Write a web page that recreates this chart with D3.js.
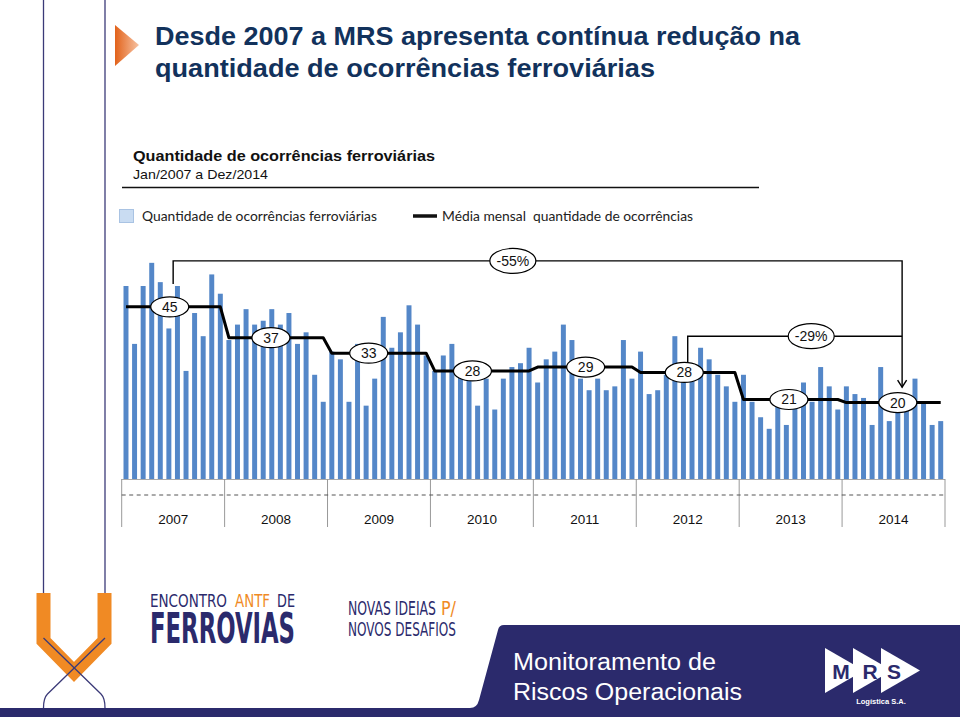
<!DOCTYPE html>
<html><head><meta charset="utf-8">
<script src="https://cdn.jsdelivr.net/npm/d3@7"></script>
<style>html,body{margin:0;padding:0;background:#fff;} svg{display:block;}
text{font-family:'Liberation Sans', Arial, Helvetica, sans-serif;}
text.cal{font-family:Lato, 'Open Sans', sans-serif;}
text.cond{font-family:'DejaVu Sans Condensed','DejaVu Sans',sans-serif;}
</style>
</head><body>
<svg id="c" width="960" height="717"></svg>
<script>
// ---------- DATA ----------
const years = ["2007","2008","2009","2010","2011","2012","2013","2014"];
const counts2007 = [50,35,50,56,51,39,50,28,43,37,53,48];
const counts2008 = [36,40,44,40,41,44,40,43,35,38,27,20];
const counts2009 = [33,31,20,35,19,26,42,34,38,45,40,32];
const counts2010 = [28,32,35,28,26,19,26,18,26,29,30,34];
const counts2011 = [25,31,33,40,36,26,23,26,23,24,36,26];
const counts2012 = [33,22,23,27,37,30,28,34,31,27,24,20];
const counts2013 = [27,20,16,13,20,14,21,25,20,29,24,18];
const counts2014 = [24,22,21,14,29,15,19,21,26,20,14,15];
const yearAverages = [44.6,36.6,32.6,28.0,29.0,27.6,20.6,19.8];
const changeLabels = ["-55%","-29%"];
const seriesNames = ["Quantidade de ocorrências ferroviárias","Média mensal  quantidade de ocorrências"];

// ---------- SETUP ----------
const counts = [].concat(counts2007,counts2008,counts2009,counts2010,counts2011,counts2012,counts2013,counts2014);
const months = d3.range(counts.length);
const avgPerMonth = months.map(i => yearAverages[Math.floor(i/12)]);

const svg = d3.select("#c");
const defs = svg.append("defs");
const NAVY = "#2b2a6c", TITLE = "#12325c", ORANGE = "#f08a24";

const x = d3.scaleBand().domain(months).range([121.7,945]).paddingInner(0.42).paddingOuter(0.21);
const y = d3.scaleLinear().domain([0,60]).range([479,247.4]);
const step = x.step();
const xc = i => x(i) + x.bandwidth()/2;
const xEdge = i => x.range()[0] + i*step;
const xYear = d3.scaleBand().domain(years).range(x.range());

function txt(parent, t, o){
  const s = parent.append("text").text(t);
  Object.entries(o).forEach(([k,v]) => s.attr(k,v));
  return s;
}

// ---------- DECOR: left lines & title ----------
svg.append("line").attr("x1",43.5).attr("x2",43.5).attr("y1",0).attr("y2",638).attr("stroke","#3b3a78").attr("stroke-width",1.3);
svg.append("line").attr("x1",105).attr("x2",105).attr("y1",0).attr("y2",638).attr("stroke","#3b3a78").attr("stroke-width",1.3);

const g1 = defs.append("linearGradient").attr("id","tri").attr("x1","0").attr("x2","1").attr("y1","0").attr("y2","0");
g1.append("stop").attr("offset","0").attr("stop-color","#e2621a");
g1.append("stop").attr("offset","1").attr("stop-color","#f7c3a3");
svg.append("path").attr("d","M115,25 L139,45 L115,66 Z").attr("fill","url(#tri)");

txt(svg,"Desde 2007 a MRS apresenta contínua redução na",{x:155,y:45,"font-weight":"bold","font-size":26,fill:TITLE,textLength:645,lengthAdjust:"spacingAndGlyphs"});
txt(svg,"quantidade de ocorrências ferroviárias",{x:155,y:77,"font-weight":"bold","font-size":26,fill:TITLE,textLength:500,lengthAdjust:"spacingAndGlyphs"});

txt(svg,"Quantidade de ocorrências ferroviárias",{x:133,y:161,"font-weight":"bold","font-size":15,fill:"#111",textLength:302,lengthAdjust:"spacingAndGlyphs"});
txt(svg,"Jan/2007 a Dez/2014",{x:133,y:179,"font-size":13.5,fill:"#111",textLength:135,lengthAdjust:"spacingAndGlyphs"});
svg.append("line").attr("x1",122).attr("x2",759).attr("y1",187.5).attr("y2",187.5).attr("stroke","#111").attr("stroke-width",1.5);

// legend
svg.append("rect").attr("x",119.5).attr("y",209.5).attr("width",14).attr("height",13).attr("fill","#c9dcf2").attr("stroke","#a9c3e3");
txt(svg,seriesNames[0],{class:"cal",x:142,y:221,"font-size":13.5,fill:"#222",textLength:235,lengthAdjust:"spacingAndGlyphs"});
svg.append("line").attr("x1",413).attr("x2",437).attr("y1",216).attr("y2",216).attr("stroke","#111").attr("stroke-width",3.5);
txt(svg,seriesNames[1],{class:"cal",x:442,y:221,"font-size":13.5,fill:"#222","xml:space":"preserve",textLength:251,lengthAdjust:"spacingAndGlyphs"});

// ---------- CHART ----------
const chart = svg.append("g");
chart.selectAll("rect.bar").data(months).join("rect").attr("class","bar")
  .attr("x", i => x(i)).attr("width", x.bandwidth())
  .attr("y", i => y(counts[i])).attr("height", i => y(0) - y(counts[i]))
  .attr("fill","#5487c8");

// axis baseline + year separators
chart.append("line").attr("x1",x.range()[0]).attr("x2",x.range()[1]).attr("y1",y(0)+0.5).attr("y2",y(0)+0.5).attr("stroke","#aaa").attr("stroke-width",1);
const seps = years.map(d => xYear(d)).concat([x.range()[1]]);
chart.selectAll("line.sep").data(seps).join("line").attr("class","sep")
  .attr("x1",d=>d).attr("x2",d=>d).attr("y1",y(0)).attr("y2",527).attr("stroke","#999").attr("stroke-width",1);
chart.append("line").attr("x1",x.range()[0]).attr("x2",x.range()[1]).attr("y1",495).attr("y2",495)
  .attr("stroke","#555").attr("stroke-width",1).attr("stroke-dasharray","4,3.5");

const axisG = chart.append("g").attr("transform","translate(0,510)")
  .call(d3.axisBottom(xYear).tickSize(0).tickPadding(4));
axisG.select(".domain").remove();
axisG.selectAll("text").attr("font-family","'Liberation Sans', Arial, sans-serif").attr("font-size",13.5).attr("fill","#111");

// average step line
const line = d3.line().x(i => xc(i)).y(i => y(avgPerMonth[i]));
chart.append("path").datum(months).attr("d",line).attr("fill","none").attr("stroke","#000")
  .attr("stroke-width",3).attr("stroke-linejoin","round");

// brackets
function br(d){ return chart.append("path").attr("d",d).attr("stroke","#000").attr("stroke-width",1.4).attr("fill","none"); }
const bracketRight = xEdge(91);
const bracket1Left = xEdge(6);
const bracket2Left = xEdge(66);
const b1Y = y(56.5), b2Y = y(37);
const tipY = y(23.8);
const labelMonthInYear = [5.1,4.9,4.3,4.4,5.6,5.1,5.3,6.0];
const ellipseTop2012 = y(yearAverages[5]) - 10;
br(`M${bracket1Left},${y(50.5)} V${b1Y} H${bracketRight} V${tipY}`);
br(`M${bracket2Left},${ellipseTop2012} V${b2Y} H${bracketRight}`);
br(`M${bracketRight-4.5},${tipY-7} L${bracketRight},${tipY} L${bracketRight+4.5},${tipY-7}`);

const changePos = [
  {x: bracket1Left + 0.466*(bracketRight-bracket1Left), y: b1Y},
  {x: bracket2Left + 0.576*(bracketRight-bracket2Left), y: b2Y}
];
changeLabels.forEach((t,k) => {
  chart.append("ellipse").attr("cx",changePos[k].x).attr("cy",changePos[k].y).attr("rx",23).attr("ry",12.5)
    .attr("fill","#fff").attr("stroke","#000").attr("stroke-width",1.2);
  txt(chart,t,{x:changePos[k].x,y:changePos[k].y+5,"text-anchor":"middle","font-size":14,fill:"#111"});
});

// average labels
yearAverages.forEach((v,k) => {
  const cx = x.range()[0] + (12*k + labelMonthInYear[k] + 0.5)*step;
  const cy = y(v);
  chart.append("ellipse").attr("cx",cx).attr("cy",cy).attr("rx",19).attr("ry",10)
    .attr("fill","#fff").attr("stroke","#000").attr("stroke-width",1.2);
  txt(chart,Math.round(v),{x:cx,y:cy+5,"text-anchor":"middle","font-size":14,fill:"#111"});
});

// ---------- FOOTER ----------
svg.append("polyline").attr("points","43.5,593 43.5,641 74,672 104.5,641 104.5,593")
  .attr("fill","none").attr("stroke",ORANGE).attr("stroke-width",14).attr("stroke-linejoin","miter");
svg.append("path").attr("d","M43.5,638 L101,694 Q105,698 105,708").attr("fill","none").attr("stroke","#3b3a78").attr("stroke-width",1.3);
svg.append("path").attr("d","M105,638 L47.5,694 Q43.5,698 43.5,708").attr("fill","none").attr("stroke","#3b3a78").attr("stroke-width",1.3);

txt(svg,"ENCONTRO",{class:"cond",x:150,y:607,"font-size":17,fill:NAVY,textLength:77,lengthAdjust:"spacingAndGlyphs"});
txt(svg,"ANTF",{class:"cond",x:235,y:607,"font-size":17,fill:ORANGE,textLength:35,lengthAdjust:"spacingAndGlyphs"});
txt(svg,"DE",{class:"cond",x:277,y:607,"font-size":17,fill:NAVY,textLength:18,lengthAdjust:"spacingAndGlyphs"});
txt(svg,"FERROVIAS",{class:"cond",x:150,y:643,"font-weight":"bold","font-size":43,fill:NAVY,textLength:145,lengthAdjust:"spacingAndGlyphs"});
txt(svg,"NOVAS IDEIAS",{class:"cond",x:348,y:615,"font-size":20,fill:NAVY,textLength:88,lengthAdjust:"spacingAndGlyphs"});
txt(svg,"P/",{class:"cond",x:441,y:615,"font-size":20,fill:ORANGE,textLength:15,lengthAdjust:"spacingAndGlyphs"});
txt(svg,"NOVOS DESAFIOS",{class:"cond",x:348,y:636,"font-size":20,fill:NAVY,textLength:108,lengthAdjust:"spacingAndGlyphs"});

svg.append("path").attr("d","M960,625 L504,625 Q499,625 498,630 L479,700 Q477,708 470,708 L0,708 L0,717 L960,717 Z").attr("fill",NAVY);
txt(svg,"Monitoramento de",{x:513,y:670,"font-size":23,fill:"#fff",textLength:203,lengthAdjust:"spacingAndGlyphs"});
txt(svg,"Riscos Operacionais",{x:513,y:700,"font-size":23,fill:"#fff",textLength:229,lengthAdjust:"spacingAndGlyphs"});

// MRS logo
[825,853,881].forEach(x0 => {
  svg.append("path").attr("d",`M${x0},648 L${x0+39},670.5 L${x0},693 Z`).attr("fill","#fff");
});
[["M",841],["R",870],["S",894]].forEach(([t,xx]) => {
  txt(svg,t,{x:xx,y:679,"text-anchor":"middle","font-weight":"bold","font-size":21,fill:NAVY});
});
txt(svg,"Logística S.A.",{x:881,y:704,"text-anchor":"middle","font-weight":"bold","font-size":7.5,fill:"#fff"});
</script>
</body></html>
